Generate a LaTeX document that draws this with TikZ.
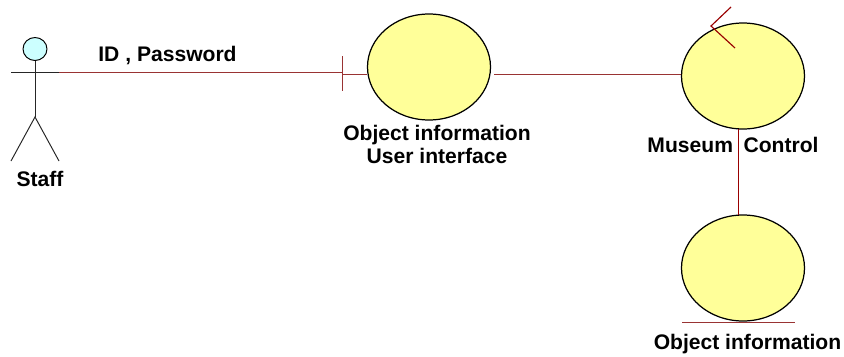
\documentclass[tikz,border=0pt]{standalone}
\usepackage{fontspec}
\setmainfont{Liberation Sans}
\usetikzlibrary{positioning, calc, shapes.geometric}
\definecolor{ballfill}{HTML}{FFFF99}
\definecolor{headfill}{HTML}{CCFFFF}
\definecolor{linkred}{HTML}{993333}
\definecolor{markred}{HTML}{990000}
\tikzset{
  ball/.style={draw=black, line width=0.7pt, fill=ballfill, ellipse, minimum width=2.46cm, minimum height=2.12cm, inner sep=0pt},
  lbl/.style={font=\fontsize{12}{12.6}\selectfont\bfseries, align=center, inner sep=0pt},
  link/.style={draw=linkred, line width=0.7pt},
  mark line/.style={draw=markred, line width=0.65pt},
  stick/.style={draw=black!85, line width=0.55pt}
}

\begin{document}
\begin{tikzpicture}
\useasboundingbox (0,0) rectangle (16.88,-7.12);

% Actor
\node[draw=black, line width=0.55pt, fill=headfill, ellipse, minimum width=0.48cm, minimum height=0.46cm, inner sep=0pt] (staffHead) at (0.70,-0.98) {};
\coordinate (staffHip) at (0.70,-2.34);
\coordinate (staffArmL) at (0.22,-1.45);
\coordinate (staffArmR) at (1.18,-1.45);
\coordinate (staffFootL) at (0.22,-3.22);
\coordinate (staffFootR) at (1.18,-3.22);
\node[lbl] (staffLabel) at (0.80,-3.58) {Staff};

% Elipses
\node[ball] (uiBall) at (8.58,-1.34) {};
\node[ball] (controlBall) at (14.86,-1.52) {};
\node[ball] (entityBall) at (14.86,-5.36) {};

% Marcas de frontera, control y entidad
\coordinate (uiBarTop) at (6.85,-1.12);
\coordinate (uiBarBot) at (6.85,-1.82);
\coordinate (uiBarIn) at (6.85,-1.45);
\coordinate (uiBarOut) at (6.85,-1.49);
\coordinate (uiExit) at (9.88,-1.49);
\coordinate (tickA) at (14.62,-0.14);
\coordinate (tickB) at (14.22,-0.52);
\coordinate (tickC) at (14.70,-0.96);
\coordinate (entityL) at (13.64,-6.45);
\coordinate (entityR) at (15.90,-6.45);

% Enlaces
\draw[link] (staffArmR) -- (uiBarIn);
\draw[link] (uiBarTop) -- (uiBarBot);
\draw[link] (uiBarOut) -- (uiBarOut -| uiBall.west);
\draw[link] (uiExit) -- (uiExit -| controlBall.west);
\draw[mark line] (controlBall.-95) -- (entityBall.95);
\draw[mark line] (tickA) -- (tickB) -- (tickC);
\draw[link] (entityL) -- (entityR);

% Figura
\draw[stick] (staffHead) -- (staffHip);
\draw[stick] (staffArmL) -- (staffArmR);
\draw[stick] (staffFootL) -- (staffHip) -- (staffFootR);

% Etiquetas
\node[lbl] (idLabel) at (3.35,-1.11) {ID , Password};
\node[lbl] (uiLabel) at (8.74,-2.89) {Object information\\User interface};
\node[lbl] (controlLabel) at (14.66,-2.89) {Museum\hspace{0.5em}Control};
\node[lbl] (entityLabel) at (14.95,-6.89) {Object information};
\end{tikzpicture}
\end{document}
